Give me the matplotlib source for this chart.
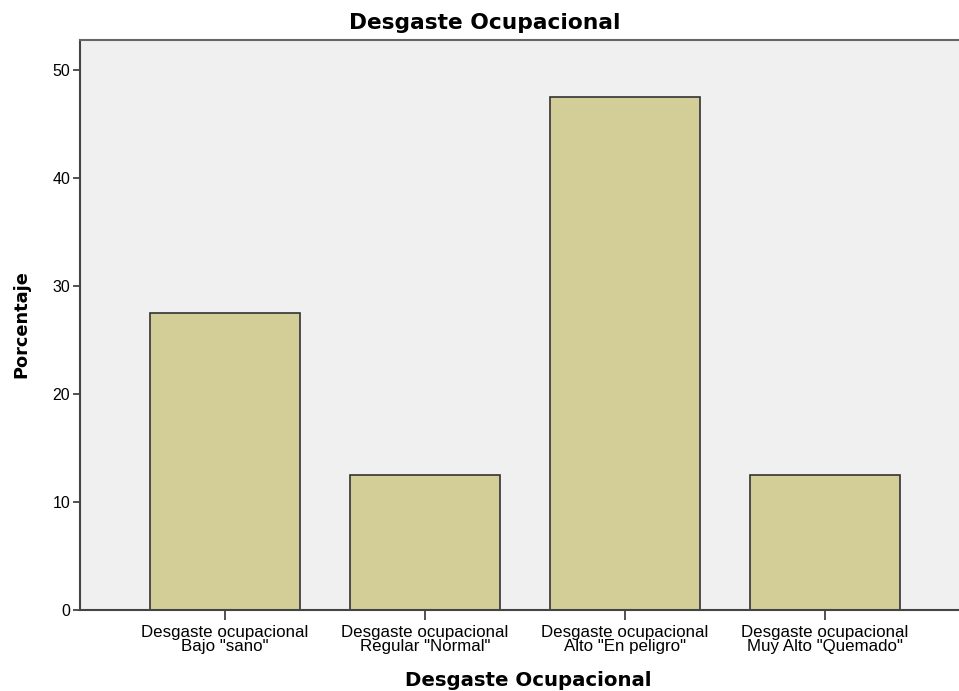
"""
Desgaste Ocupacional - bar chart (SPSS style)
"""
import matplotlib
matplotlib.use('Agg')
import matplotlib.pyplot as plt
import numpy as np

# ============================================================================
# DATA
# ============================================================================
categorias = [
    'Desgaste ocupacional\nBajo "sano"',
    'Desgaste ocupacional\nRegular "Normal"',
    'Desgaste ocupacional\nAlto "En peligro"',
    'Desgaste ocupacional\nMuy Alto "Quemado"',
]
porcentajes = [27.5, 12.5, 47.5, 12.5]
y_ticks = [0, 10, 20, 30, 40, 50]

# ============================================================================
# STYLE
# ============================================================================
W, H = 959, 691
BAR_COLOR = '#d3ce97'
BG_COLOR = '#f0f0f0'
EDGE = '#333333'
TICK_FONT = 'Liberation Sans'
BOLD_FONT = 'DejaVu Sans'


def px(x, y):
    """pixel coords (top-left origin) -> figure fraction"""
    return x / W, 1 - y / H


fig = plt.figure(figsize=(W / 100, H / 100), dpi=100)
left, top = px(80, 40)
right, bottom = px(970, 610)
ax = fig.add_axes([left, bottom, right - left, top - bottom])
ax.set_facecolor(BG_COLOR)

x = np.arange(len(categorias))
ax.bar(x, porcentajes, width=0.75, color=BAR_COLOR, edgecolor=EDGE, linewidth=1.2)

ax.set_xlim(-0.725, 3.725)
ax.set_ylim(0, 52.8)
ax.set_yticks(y_ticks)
ax.set_xticks(x)
ax.set_xticklabels(categorias, fontsize=12.2, family=TICK_FONT, linespacing=0.92)
ax.tick_params(axis='y', labelsize=11.5, length=5, width=1.2, color=EDGE, pad=2)
ax.tick_params(axis='x', length=7, width=1.2, color=EDGE, pad=4)
for lbl in ax.get_yticklabels():
    lbl.set_family(TICK_FONT)

for side in ['left', 'bottom', 'top']:
    ax.spines[side].set_color('#444444')
    ax.spines[side].set_linewidth(1.5)
ax.spines['top'].set_color('#666666')
ax.spines['right'].set_visible(False)

# titles
fig.text(*px(485, 23), 'Desgaste Ocupacional', ha='center', va='center',
         fontsize=15.7, fontweight='bold', family=BOLD_FONT)
fig.text(*px(528, 680), 'Desgaste Ocupacional', ha='center', va='center',
         fontsize=14.2, fontweight='bold', family=BOLD_FONT)
fig.text(*px(21, 324), 'Porcentaje', ha='center', va='center', rotation=90,
         fontsize=12.8, fontweight='bold', family=BOLD_FONT)

fig.savefig('out.png', dpi=100)
